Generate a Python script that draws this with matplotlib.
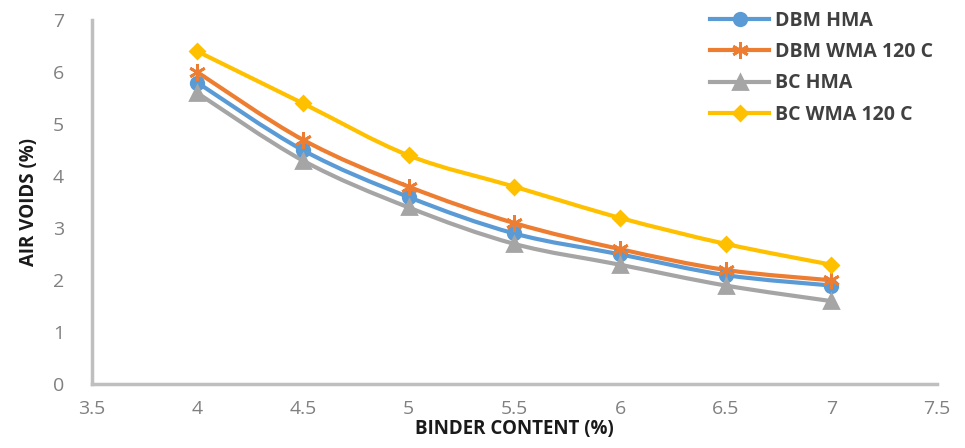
import matplotlib.pyplot as plt
import numpy as np
from matplotlib.path import Path
from matplotlib.patches import PathPatch
from matplotlib.lines import Line2D

binder = [4, 4.5, 5, 5.5, 6, 6.5, 7]
dbm_hma = [5.8, 4.5, 3.6, 2.9, 2.5, 2.1, 1.9]
dbm_wma = [6.0, 4.7, 3.8, 3.1, 2.6, 2.2, 2.0]
bc_hma = [5.6, 4.3, 3.4, 2.7, 2.3, 1.9, 1.6]
bc_wma = [6.4, 5.4, 4.4, 3.8, 3.2, 2.7, 2.3]

series = [
    ('DBM HMA', dbm_hma, '#5B9BD5', 'o', 9),
    ('DBM WMA 120 C', dbm_wma, '#ED7D31', (6, 2, 0), 12),
    ('BC HMA', bc_hma, '#A5A5A5', '^', 10),
    ('BC WMA 120 C', bc_wma, '#FFC000', 'D', 7),
]


def smooth_path(x, y, k=1/6):
    # cardinal spline through the points as cubic bezier segments
    x = np.asarray(x, float)
    y = np.asarray(y, float)
    verts = [(x[0], y[0])]
    codes = [Path.MOVETO]
    n = len(x)
    for i in range(n - 1):
        i0 = max(i - 1, 0)
        i3 = min(i + 2, n - 1)
        c1 = (x[i] + (x[i + 1] - x[i0]) * k, y[i] + (y[i + 1] - y[i0]) * k)
        c2 = (x[i + 1] - (x[i3] - x[i]) * k, y[i + 1] - (y[i3] - y[i]) * k)
        verts += [c1, c2, (x[i + 1], y[i + 1])]
        codes += [Path.CURVE4] * 3
    return Path(verts, codes)


plt.rcParams['font.family'] = ['Open Sans', 'DejaVu Sans']

fig = plt.figure(figsize=(9.65, 4.48), dpi=100)
ax = fig.add_axes([0.095, 0.142, 0.876, 0.813])

handles = []
for name, vals, color, marker, ms in series:
    ax.add_patch(PathPatch(smooth_path(binder, vals), facecolor='none',
                           edgecolor=color, linewidth=3, zorder=2))
    ax.plot(binder, vals, linestyle='none', marker=marker, markersize=ms,
            color=color, markeredgecolor=color, markeredgewidth=2, zorder=3)
    handles.append(Line2D([], [], color=color, linewidth=3, marker=marker,
                          markersize=ms, markeredgewidth=2, label=name))

ax.set_xlim(3.5, 7.5)
ax.set_ylim(0, 7)
ax.set_xticks(np.arange(3.5, 7.6, 0.5))
ax.set_xticklabels(['3.5', '4', '4.5', '5', '5.5', '6', '6.5', '7', '7.5'])
ax.set_yticks(range(0, 8))
ax.tick_params(length=0, labelsize=14, labelcolor='#808080')
ax.tick_params(axis='x', pad=11)
ax.tick_params(axis='y', pad=20)

for side in ['top', 'right']:
    ax.spines[side].set_visible(False)
for side in ['left', 'bottom']:
    ax.spines[side].set_color('#BFBFBF')
    ax.spines[side].set_linewidth(2.5)

ax.set_xlabel('BINDER CONTENT (%)', fontsize=13.5, fontweight='bold',
              color='#1a1a1a', labelpad=1)
ax.set_ylabel('AIR VOIDS (%)', fontsize=13.5, fontweight='bold',
              color='#1a1a1a', labelpad=10)

leg = fig.legend(handles=handles, loc='upper left', bbox_to_anchor=(0.718, 1.015),
                 frameon=False, fontsize=14, handlelength=3.0, labelspacing=0.58,
                 handletextpad=0.3)
for t in leg.get_texts():
    t.set_fontweight('bold')
    t.set_color('#404040')

fig.savefig('out.png', dpi=100)
